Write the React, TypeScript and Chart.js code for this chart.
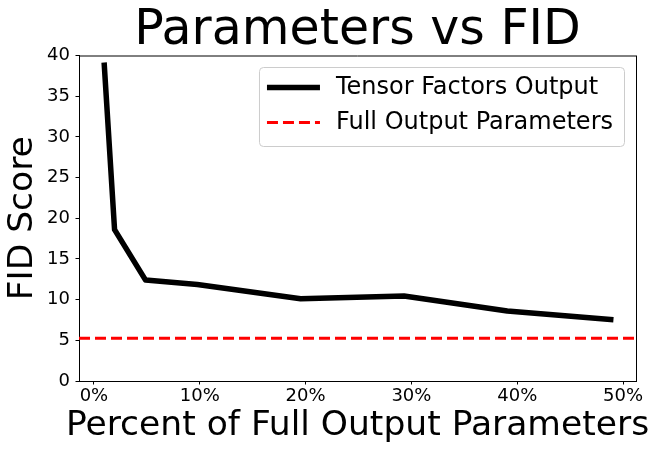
import React, { useEffect, useRef } from "react";
import { Chart, registerables } from "chart.js";

Chart.register(...registerables);

const TITLE = "Parameters vs FID";
const X_LABEL = "Percent of Full Output Parameters";
const Y_LABEL = "FID Score";
const SERIES_NAME = "Tensor Factors Output";
const BASELINE_NAME = "Full Output Parameters";

const percentParams = [0.98, 1.95, 4.88, 9.77, 19.53, 29.3, 39.06, 48.83];
const fidScores = [38.8, 18.6, 12.4, 11.85, 10.1, 10.45, 8.6, 7.55];
const fullOutputFid = 5.24;

const xTicks = [0, 10, 20, 30, 40, 50];
const yTicks = [0, 5, 10, 15, 20, 25, 30, 35, 40];
const xRange = [-1.41, 51.22];
const yRange = [0, 40];

const FONT = "'DejaVu Sans', sans-serif";

const framePlugin = {
  id: "frameAndLegend",
  afterDraw(chart: any) {
    const { ctx, chartArea } = chart;
    const { left, right, top, bottom } = chartArea;
    ctx.save();
    // top and right spines
    ctx.strokeStyle = "#000";
    ctx.lineWidth = 1;
    ctx.beginPath();
    ctx.moveTo(left, top + 0.5);
    ctx.lineTo(right, top + 0.5);
    ctx.moveTo(right + 0.5, top);
    ctx.lineTo(right + 0.5, bottom);
    ctx.stroke();

    // x axis label (drawn without width compression)
    ctx.fillStyle = "#000";
    ctx.font = `34.5px ${FONT}`;
    ctx.textAlign = "center";
    ctx.textBaseline = "middle";
    ctx.fillText(X_LABEL, (left + right) / 2, bottom + 45);

    // legend
    const fontSize = 24;
    ctx.font = `${fontSize}px ${FONT}`;
    const labels = [SERIES_NAME, BASELINE_NAME];
    const textW = Math.max(...labels.map((l) => ctx.measureText(l).width));
    const padL = 8;
    const handleW = 53;
    const gap = 16;
    const padR = 11;
    const boxW = padL + handleW + gap + textW + padR;
    const boxH = 79;
    const boxRight = right - 12;
    const boxTop = top + 11.5;
    const boxLeft = boxRight - boxW;
    ctx.fillStyle = "rgba(255,255,255,0.85)";
    ctx.strokeStyle = "#cccccc";
    ctx.lineWidth = 1;
    ctx.beginPath();
    (ctx as any).roundRect(boxLeft + 0.5, boxTop + 0.5, boxW, boxH, 4);
    ctx.fill();
    ctx.stroke();

    const rows = [boxTop + 20.5, boxTop + 55.5];
    // handle 1: solid black
    ctx.strokeStyle = "#000";
    ctx.lineWidth = 5.5;
    ctx.lineCap = "butt";
    ctx.setLineDash([]);
    ctx.beginPath();
    ctx.moveTo(boxLeft + padL, rows[0]);
    ctx.lineTo(boxLeft + padL + handleW, rows[0]);
    ctx.stroke();
    // handle 2: dashed red
    ctx.strokeStyle = "#ff0000";
    ctx.lineWidth = 3;
    ctx.setLineDash([11, 5]);
    ctx.beginPath();
    ctx.moveTo(boxLeft + padL, rows[1]);
    ctx.lineTo(boxLeft + padL + handleW, rows[1]);
    ctx.stroke();
    ctx.setLineDash([]);

    ctx.fillStyle = "#000";
    ctx.textBaseline = "middle";
    ctx.textAlign = "left";
    labels.forEach((l, i) => {
      ctx.fillText(l, boxLeft + padL + handleW + gap, rows[i]);
    });
    ctx.restore();
  },
};

export default function App() {
  const canvasRef = useRef<HTMLCanvasElement | null>(null);

  useEffect(() => {
    document.body.style.margin = "0";
    const canvas = canvasRef.current;
    if (!canvas) return;
    Chart.defaults.font.family = FONT;
    const chart = new Chart(canvas, {
      type: "line",
      data: {
        datasets: [
          {
            label: SERIES_NAME,
            data: percentParams.map((x, i) => ({ x, y: fidScores[i] })),
            borderColor: "#000000",
            backgroundColor: "#000000",
            borderWidth: 5.5,
            pointRadius: 0,
            tension: 0,
            borderCapStyle: "square",
            borderJoinStyle: "round",
          },
          {
            label: BASELINE_NAME,
            data: [
              { x: xRange[0], y: fullOutputFid },
              { x: xRange[1], y: fullOutputFid },
            ],
            borderColor: "#ff0000",
            backgroundColor: "#ff0000",
            borderWidth: 3,
            borderDash: [11, 5],
            pointRadius: 0,
          },
        ],
      },
      options: {
        responsive: false,
        animation: false,
        layout: { padding: { left: 0, right: 23, top: 0, bottom: 0 } },
        plugins: {
          legend: { display: false },
          tooltip: { enabled: false },
          title: {
            display: true,
            text: TITLE,
            color: "#000",
            fullSize: false,
            font: { family: FONT, size: 49, weight: "normal", lineHeight: 1 },
            padding: { top: 6.5, bottom: 0 },
          },
        },
        scales: {
          x: {
            type: "linear",
            min: xRange[0],
            max: xRange[1],
            afterBuildTicks: (scale: any) => {
              scale.ticks = xTicks.map((v) => ({ value: v }));
            },
            afterFit: (scale: any) => {
              scale.height = 71;
              scale.paddingLeft = 0;
              scale.paddingRight = 0;
            },
            ticks: {
              color: "#000",
              font: { family: FONT, size: 18 },
              padding: 1.5,
              maxRotation: 0,
              autoSkip: false,
              callback: (v: any) => `${v}%`,
            },
            grid: {
              display: true,
              drawOnChartArea: false,
              drawTicks: true,
              tickLength: 3.5,
              color: "#000",
            },
            border: { display: true, color: "#000", width: 1 },
            title: { display: false },
          },
          y: {
            type: "linear",
            min: yRange[0],
            max: yRange[1],
            afterBuildTicks: (scale: any) => {
              scale.ticks = yTicks.map((v) => ({ value: v }));
            },
            afterFit: (scale: any) => {
              scale.width = 79;
              scale.paddingTop = 0;
              scale.paddingBottom = 0;
            },
            ticks: {
              color: "#000",
              font: { family: FONT, size: 18 },
              padding: 5.5,
              autoSkip: false,
            },
            grid: {
              display: true,
              drawOnChartArea: false,
              drawTicks: true,
              tickLength: 3.5,
              color: "#000",
            },
            border: { display: true, color: "#000", width: 1 },
            title: {
              display: true,
              text: Y_LABEL,
              color: "#000",
              font: { family: FONT, size: 34.5, lineHeight: 1.2 },
              padding: { top: 2.5, bottom: 0 },
            },
          },
        },
      },
      plugins: [framePlugin],
    });
    return () => chart.destroy();
  }, []);

  return (
    <div style={{ width: 659, height: 452, position: "relative" }}>
      <canvas ref={canvasRef} width={659} height={452} style={{ display: "block" }} />
    </div>
  );
}
